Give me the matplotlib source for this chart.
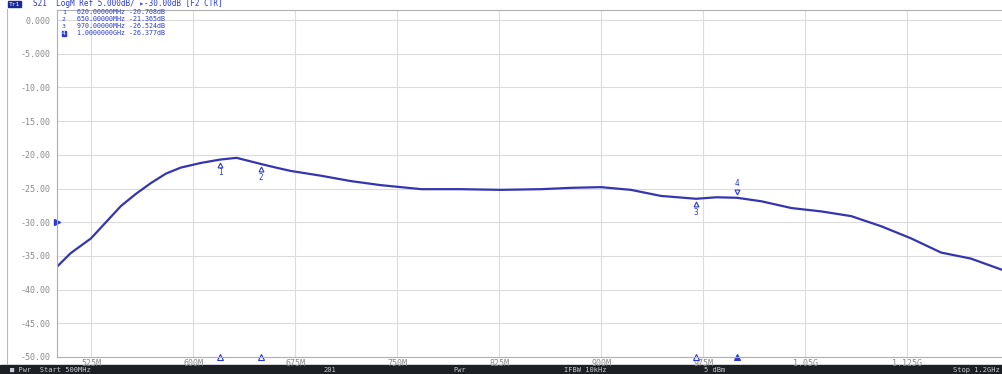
import matplotlib
matplotlib.use("Agg")
import matplotlib.pyplot as plt

# S21 transmission sweep, 500 MHz .. 1.2 GHz
freq_mhz = [500, 510, 525, 536, 547, 558, 569, 580, 591, 606, 620, 632, 650, 661,
            672, 694, 716, 738, 768, 797, 826, 856, 878, 900, 922, 944, 970, 985,
            1000, 1018, 1040, 1062, 1084, 1106, 1128, 1150, 1172, 1194, 1200]
s21_db = [-36.6, -34.6, -32.4, -30.0, -27.6, -25.8, -24.2, -22.8, -21.9, -21.2,
          -20.708, -20.45, -21.365, -21.9, -22.4, -23.1, -23.9, -24.5, -25.1, -25.1,
          -25.2, -25.1, -24.9, -24.8, -25.2, -26.1, -26.524, -26.3, -26.377, -26.9,
          -27.9, -28.4, -29.1, -30.6, -32.4, -34.5, -35.4, -37.0, -37.4]

# Marker readouts
marker_ids = [1, 2, 3, 4]
marker_freq_mhz = [620, 650, 970, 1000]
marker_db = [-20.708, -21.365, -26.524, -26.377]
marker_freq_text = ["620.00000MHz", "650.00000MHz", "970.00000MHz", "1.0000000GHz"]

x_ticks = [525, 600, 675, 750, 825, 900, 975, 1050, 1125]
x_tick_labels = ["525M", "600M", "675M", "750M", "825M", "900M", "975M", "1.05G", "1.125G"]
y_ticks = [0, -5, -10, -15, -20, -25, -30, -35, -40, -45, -50]
y_tick_labels = ["0.000", "-5.000", "-10.00", "-15.00", "-20.00", "-25.00",
                 "-30.00", "-35.00", "-40.00", "-45.00", "-50.00"]
ref_level_db = -30

W, H = 1002, 374
TRACE = "#3535b0"
BLUE = "#2a3ad0"
GRAY = "#8a8a8a"
MONO = "DejaVu Sans Mono"

fig = plt.figure(figsize=(W / 100, H / 100), dpi=100)
fig.patch.set_facecolor("white")

# plot area: frame from y=10 to y=357 px, 0 dB sits at y=20 px
left, right, top, bottom = 57, 1002, 10, 357
zero_px = 20
px_per_db = (bottom - zero_px) / 50.0
ax = fig.add_axes([left / W, (H - bottom) / H, (right - left) / W, (bottom - top) / H])
ax.set_xlim(500, 500 + (right - left) / 1.36)
ax.set_ylim(-50, (zero_px - top) / px_per_db)

ax.plot(freq_mhz, s21_db, color=TRACE, lw=1.6, solid_joinstyle="round",
        solid_capstyle="round")

ax.set_xticks(x_ticks)
ax.set_xticklabels(x_tick_labels)
ax.set_yticks(y_ticks)
ax.set_yticklabels(y_tick_labels)
ax.tick_params(length=0, labelsize=6, labelcolor=GRAY)
ax.tick_params(axis="x", pad=1.5)
ax.tick_params(axis="y", pad=5)
for lab in ax.get_xticklabels() + ax.get_yticklabels():
    lab.set_family(MONO)
ax.grid(True, color="#dcdcdc", lw=0.8)
for s in ax.spines.values():
    s.set_color("#b0b0b0")
    s.set_linewidth(0.8)
ax.spines["right"].set_visible(False)

# markers on the trace
for mid, f, d in zip(marker_ids, marker_freq_mhz, marker_db):
    if mid == 4:
        ax.plot(f, d + 0.8, marker="v", ms=3.5, mfc="white", mec=BLUE, mew=0.8)
        ax.text(f, d + 1.4, str(mid), color=BLUE, fontsize=5.5, ha="center",
                va="bottom", family=MONO)
    else:
        ax.plot(f, d - 0.8, marker="^", ms=3.5, mfc="white", mec=BLUE, mew=0.8)
        ax.text(f, d - 1.3, str(mid), color=BLUE, fontsize=5.5, ha="center",
                va="top", family=MONO)
    ax.plot(f, -50, marker="^", ms=4.5, clip_on=False, mew=0.8,
            mfc=BLUE if mid == 4 else "white", mec=BLUE)

# reference level pointer
ax.plot(500, ref_level_db, marker=">", ms=5, color=BLUE, clip_on=False)

# marker readout table
for i, (mid, ft, d) in enumerate(zip(marker_ids, marker_freq_text, marker_db)):
    y = 12.5 + i * 6.9
    if mid == 4:
        fig.text(62 / W, 1 - y / H, str(mid), color="white", fontsize=4.6, family=MONO,
                 va="center", bbox=dict(boxstyle="square,pad=0.03", fc=BLUE, ec=BLUE))
    else:
        fig.text(62 / W, 1 - y / H, str(mid), color=BLUE, fontsize=4.6, family=MONO, va="center")
    fig.text(77 / W, 1 - y / H, f"{ft} {d:.3f}dB", color=BLUE, fontsize=4.8,
             family=MONO, va="center")

# trace header
fig.text(9 / W, 1 - 4 / H, "Tr1", color="white", fontsize=4.5, family=MONO, va="center",
         bbox=dict(boxstyle="square,pad=0.1", fc="#1a2a9a", ec="#1a2a9a"))
fig.text(33 / W, 1 - 4 / H, "S21  LogM Ref 5.000dB/ \u25b8-30.00dB [F2 CTR]",
         color=BLUE, fontsize=5.5, family=MONO, va="center")

# screen frame
fig.add_artist(plt.Line2D([7 / W, 7 / W], [(H - 364) / H, (H - 9) / H], color="#b8b8b8", lw=0.8))

# status bar
fig.add_artist(plt.Rectangle((0, 0), 1, 9 / H, transform=fig.transFigure,
                             color="#1c1f24", zorder=0))
status = [(10, "\u25a0 Pwr  Start 500MHz", "left"), (330, "201", "center"),
          (460, "Pwr", "center"), (585, "IFBW 10kHz", "center"),
          (715, "5 dBm", "center"), (1000, "Stop 1.2GHz", "right")]
for x, t, ha in status:
    fig.text(x / W, 4.3 / H, t, color="#c8ccd4", fontsize=5, family=MONO,
             ha=ha, va="center")

fig.savefig("out.png", dpi=100)
